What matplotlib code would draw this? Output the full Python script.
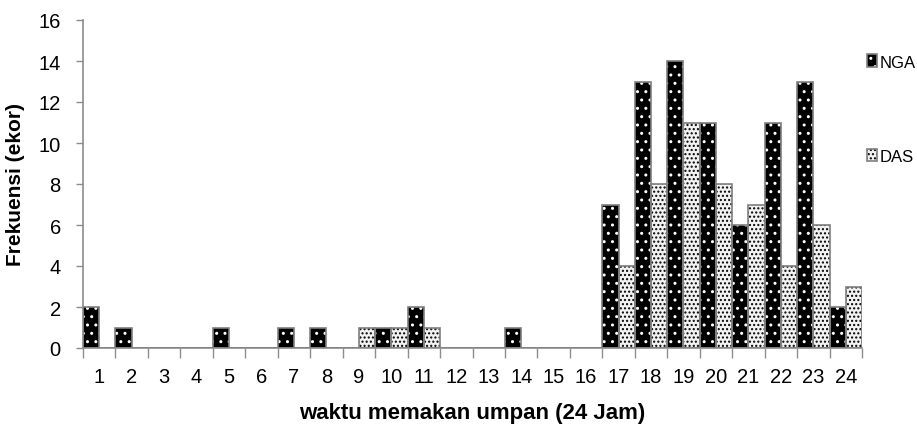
import matplotlib
matplotlib.use("Agg")
import matplotlib.pyplot as plt
from matplotlib.patches import Patch
from matplotlib.legend_handler import HandlerTuple
import numpy as np

hours = list(range(1, 25))
nga = [2, 1, 0, 0, 1, 0, 1, 1, 0, 1, 2, 0, 0, 1, 0, 0, 7, 13, 14, 11, 6, 11, 13, 2]
das = [0, 0, 0, 0, 0, 0, 0, 0, 1, 1, 1, 0, 0, 0, 0, 0, 4, 8, 11, 8, 7, 4, 6, 3]
series_names = ["NGA", "DAS"]
y_ticks = list(range(0, 17, 2))

plt.rcParams['font.family'] = ['Liberation Sans', 'DejaVu Sans']
plt.rcParams['hatch.linewidth'] = 1.0

fig = plt.figure(figsize=(9.17, 4.35), dpi=100)
ax = fig.add_axes([83/917, (435-349)/435, (862-83)/917, (349-21)/435])

x = np.array(hours, dtype=float)
w = 0.5
edge = '#7f7f7f'
# NGA
ax.bar(x - w/2, nga, width=w, color='black', edgecolor='white', hatch='..', linewidth=0, zorder=2)
ax.bar(x - w/2, nga, width=w, fill=False, edgecolor=edge, linewidth=1.2, zorder=3)
# DAS
ax.bar(x + w/2, das, width=w, color='#f2f2f2', edgecolor='black', hatch='....', linewidth=0, zorder=2)
ax.bar(x + w/2, das, width=w, fill=False, edgecolor=edge, linewidth=1.2, zorder=3)

ax.set_xlim(0.5, 24.5)
ax.set_ylim(0, 16)
ax.set_yticks(y_ticks)
ax.set_xticks(x)
ax.set_xticklabels([str(h) for h in hours])
ax.set_xticks(np.arange(0.5, 25, 1.0), minor=True)
ax.tick_params(axis='x', which='major', length=0, pad=14, labelsize=14.5)
ax.tick_params(axis='x', which='minor', length=7, color='#8c8c8c', width=1)
ax.tick_params(axis='y', length=5, color='#8c8c8c', width=1, labelsize=14.5, pad=11)
for s in ['top', 'right']:
    ax.spines[s].set_visible(False)
for s in ['left', 'bottom']:
    ax.spines[s].set_color('#8c8c8c')
    ax.spines[s].set_linewidth(1.2)

ax.set_ylabel('Frekuensi (ekor)', fontsize=15, fontweight='bold', labelpad=10)
ax.set_xlabel('waktu memakan umpan (24 Jam)', fontsize=16, fontweight='bold', labelpad=11)

h_nga = (Patch(facecolor='black', edgecolor='white', hatch='..', linewidth=0),
         Patch(fill=False, edgecolor=edge, linewidth=1.2))
h_das = (Patch(facecolor='#f2f2f2', edgecolor='black', hatch='....', linewidth=0),
         Patch(fill=False, edgecolor=edge, linewidth=1.2))
leg = fig.legend([h_nga, h_das], series_names, handler_map={tuple: HandlerTuple(ndivide=1)},
                 loc='upper left', bbox_to_anchor=(859/917, 1 - 47/435), frameon=False,
                 fontsize=12, handlelength=0.6, handleheight=0.8, handletextpad=0.15,
                 labelspacing=4.75, borderpad=0)

fig.savefig('out.png', dpi=100)
